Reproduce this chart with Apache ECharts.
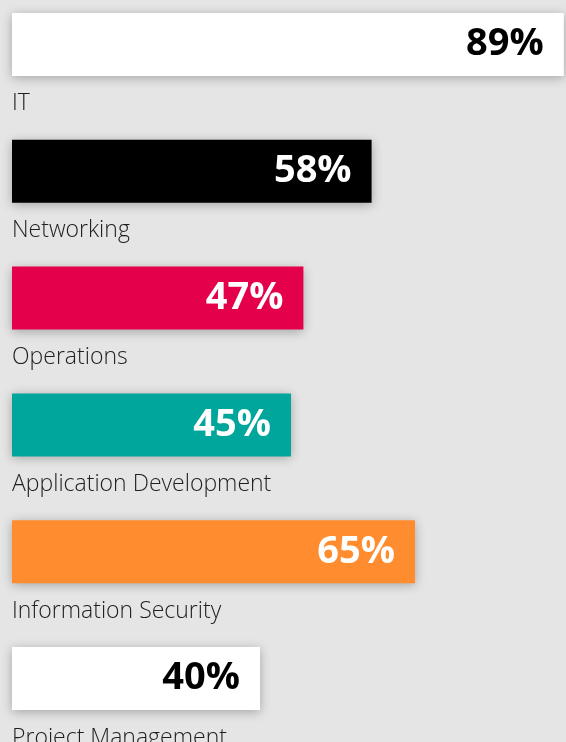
<!DOCTYPE html>
<html>
<head>
<meta charset="utf-8">
<script src="https://cdn.jsdelivr.net/npm/echarts@6/dist/echarts.min.js"></script>
<style>
  html, body { margin: 0; padding: 0; background: #e5e5e5; }
  #chart { width: 566px; height: 742px; }
</style>
</head>
<body>
<div id="chart"></div>
<script>
// job areas, top to bottom
var categories = ['IT', 'Networking', 'Operations', 'Application Development', 'Information Security', 'Project Management'];
var values = [89, 58, 47, 45, 65, 40];
var barColors = ['#ffffff', '#000000', '#e4004b', '#00a59b', '#ff8c2f', '#ffffff'];
var labelColors = ['#000000', '#ffffff', '#ffffff', '#ffffff', '#ffffff', '#000000'];

var chart = echarts.init(document.getElementById('chart'), null, { renderer: 'canvas' });

var seriesData = [];
for (var i = 0; i < values.length; i++) {
  seriesData.push({
    value: values[i],
    itemStyle: { color: barColors[i] },
    label: { color: labelColors[i] }
  });
}

var option = {
  backgroundColor: '#e5e5e5',
  animation: false,
  grid: {
    left: 12,
    top: -19,
    height: 761,
    width: 620,
    outerBoundsMode: 'none',
    containLabel: false
  },
  xAxis: {
    type: 'value',
    min: 0,
    max: 100,
    show: false
  },
  yAxis: {
    type: 'category',
    inverse: true,
    data: categories,
    axisLine: { show: false },
    axisTick: { show: false },
    splitLine: { show: false },
    axisLabel: {
      inside: true,
      margin: 0,
      align: 'left',
      verticalAlign: 'top',
      padding: [48, 0, 0, 0],
      color: '#1e1e1e',
      fontFamily: 'Open Sans',
      fontSize: 23,
      fontWeight: 300
    },
    z: 5
  },
  series: [{
    type: 'bar',
    barWidth: 63,
    data: seriesData,
    itemStyle: {
      shadowBlur: 10,
      shadowColor: 'rgba(0,0,0,0.28)',
      shadowOffsetY: 2
    },
    label: {
      show: true,
      position: 'insideRight',
      distance: 20,
      fontFamily: 'Open Sans',
      fontWeight: 'bold',
      fontSize: 38,
      formatter: '{c}%'
    }
  }]
};

chart.setOption(option);
</script>
</body>
</html>
